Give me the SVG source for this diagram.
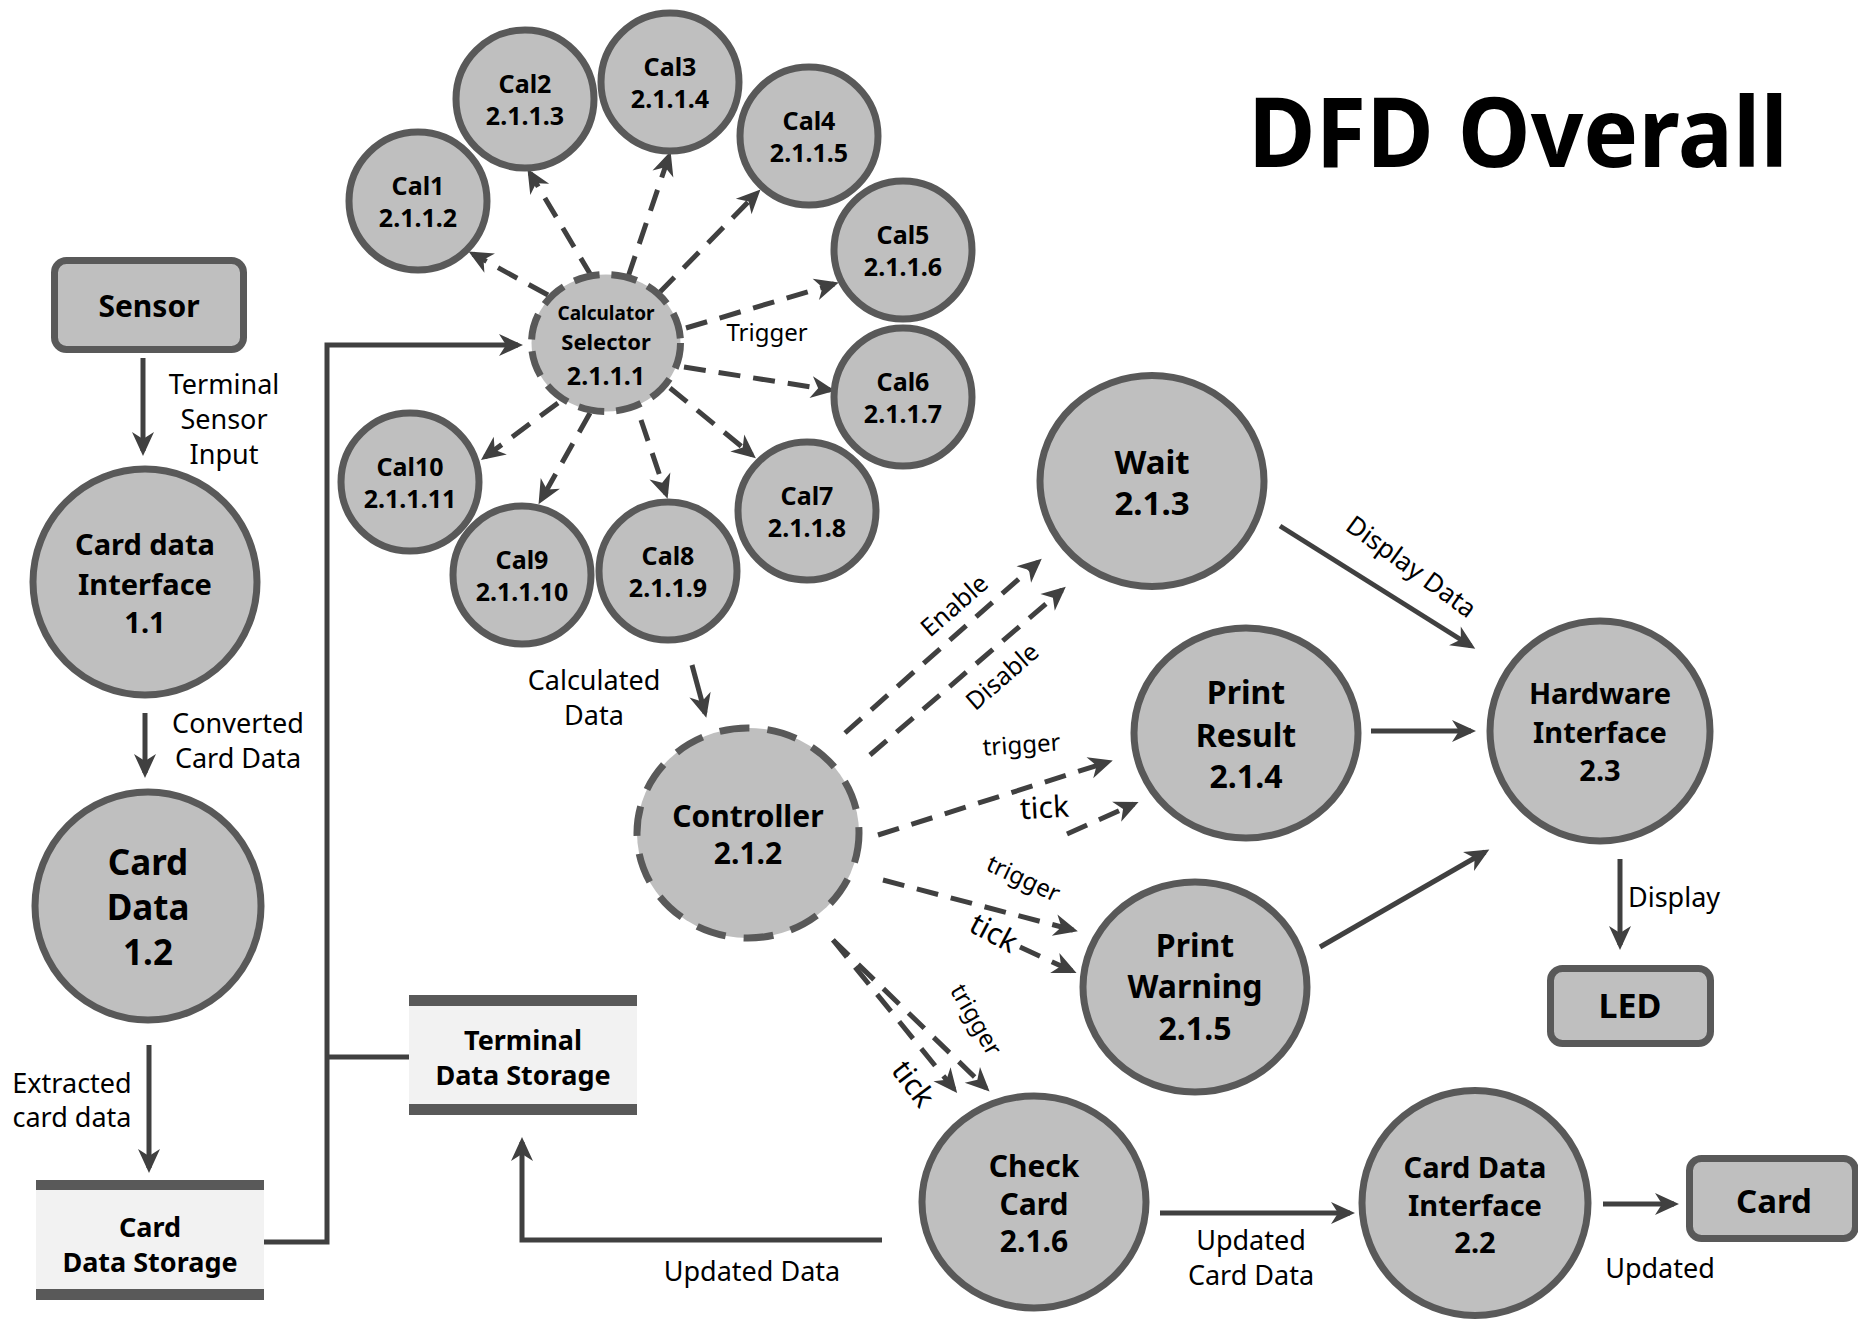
<svg xmlns="http://www.w3.org/2000/svg" width="1858" height="1321" viewBox="0 0 1858 1321">
<defs>
<marker id="ah" markerUnits="userSpaceOnUse" viewBox="-22 -13 30 26" refX="0" refY="0" markerWidth="30" markerHeight="26" orient="auto">
<path d="M5,0 L-19,-11 L-12,0 L-19,11 Z" fill="#404040"/>
</marker>
<style>
.nd{fill:#bfbfbf;stroke:#595959;stroke-width:7}
.dn{fill:#bfbfbf;stroke:#595959;stroke-width:7;stroke-dasharray:26 12}
.ct{fill:#bfbfbf;stroke:#595959;stroke-width:7;stroke-dasharray:30 18}
.bar{fill:#595959}
.sf{fill:#f2f2f2}
.c{fill:none;stroke:#404040;stroke-width:5}
.ca{fill:none;stroke:#404040;stroke-width:5;marker-end:url(#ah)}
.da{fill:none;stroke:#404040;stroke-width:5;stroke-dasharray:22 13;marker-end:url(#ah)}
text{font-family:"Noto Sans","Open Sans","DejaVu Sans",sans-serif;fill:#000}
.b{font-weight:bold;text-anchor:middle}
.l{font-size:27px;text-anchor:middle}
</style>
</defs>
<rect width="1858" height="1321" fill="#ffffff"/>

<text x="1248" y="167" font-size="96" font-weight="bold" textLength="540" lengthAdjust="spacingAndGlyphs">DFD Overall</text>

<g id="connectors">
<path class="ca" d="M143,358 L143,451"/>
<path class="ca" d="M145,713 L145,773"/>
<path class="ca" d="M149,1045 L149,1168"/>
<path class="ca" d="M264,1242 H327 V345 H518"/>
<path class="c" d="M327,1057 H409"/>
<path class="ca" d="M692,665 L705,713"/>
<path class="ca" d="M882,1240 H522 V1142"/>
<path class="ca" d="M1280,526 L1471,646"/>
<path class="ca" d="M1371,731 L1471,731"/>
<path class="ca" d="M1320,947 L1485,852"/>
<path class="ca" d="M1620,859 L1620,945"/>
<path class="ca" d="M1160,1213 L1350,1213"/>
<path class="ca" d="M1603,1204 L1674,1204"/>

<path class="da" d="M548,295 L473,254"/>
<path class="da" d="M592,277 L530,173"/>
<path class="da" d="M628,277 L669,156"/>
<path class="da" d="M659,293 L757,193"/>
<path class="da" d="M686,328 L834,284"/>
<path class="da" d="M684,367 L830,390"/>
<path class="da" d="M670,388 L752,455"/>
<path class="da" d="M641,420 L666,494"/>
<path class="da" d="M590,413 L541,500"/>
<path class="da" d="M558,403 L485,457"/>

<path class="da" d="M845,733 L1038,562"/>
<path class="da" d="M870,755 L1062,590"/>
<path class="da" d="M878,835 L1108,762"/>
<path class="da" d="M1067,834 L1134,804"/>
<path class="da" d="M883,880 L1073,930"/>
<path class="da" d="M1020,947 L1072,971"/>
<path class="da" d="M833,940 L954,1089"/>
<path class="da" d="M833,940 L986,1088"/>

<text class="l" x="224" y="394">Terminal</text>
<text class="l" x="224" y="429">Sensor</text>
<text class="l" x="224" y="464">Input</text>
<text class="l" x="238" y="733">Converted</text>
<text class="l" x="238" y="768">Card Data</text>
<text class="l" x="72" y="1093">Extracted</text>
<text class="l" x="72" y="1127">card data</text>
<text class="l" x="594" y="690">Calculated</text>
<text class="l" x="594" y="725">Data</text>
<text class="l" x="752" y="1281">Updated Data</text>
<text class="l" x="1251" y="1250">Updated</text>
<text class="l" x="1251" y="1285">Card Data</text>
<text class="l" x="1660" y="1278">Updated</text>
<text x="1628" y="907" font-size="27">Display</text>
<text class="l" transform="translate(1406,574) rotate(36)" style="font-size:26px">Display Data</text>
<text class="l" x="767" y="341" style="font-size:24px">Trigger</text>
<text class="l" style="font-size:25px" transform="translate(960,612) rotate(-41)">Enable</text>
<text class="l" style="font-size:25px" transform="translate(1008,683) rotate(-41)">Disable</text>
<text class="l" style="font-size:24px" transform="translate(1022,753) rotate(-4)">trigger</text>
<text class="l" style="font-size:30px" transform="translate(1045,818) rotate(-3)">tick</text>
<text class="l" style="font-size:24px" transform="translate(1020,886) rotate(25)">trigger</text>
<text class="l" style="font-size:30px" transform="translate(989,942) rotate(28)">tick</text>
<text class="l" style="font-size:24px" transform="translate(969,1024) rotate(60)">trigger</text>
<text class="l" style="font-size:30px" transform="translate(905,1090) rotate(53)">tick</text>
</g>

<g id="sensor">
<rect class="nd" x="54.5" y="260.5" width="189" height="89" rx="12"/>
<text class="b" x="149" y="317" font-size="30">Sensor</text>
</g>

<g id="card-data-interface-1-1">
<ellipse class="nd" cx="145" cy="582" rx="112" ry="113"/>
<text class="b" x="145" y="555" font-size="29">Card data</text>
<text class="b" x="145" y="595" font-size="29">Interface</text>
<text class="b" x="145" y="633" font-size="29">1.1</text>
</g>

<g id="card-data-1-2">
<ellipse class="nd" cx="148" cy="906" rx="113" ry="114"/>
<text class="b" x="148" y="875" font-size="35">Card</text>
<text class="b" x="148" y="920" font-size="35">Data</text>
<text class="b" x="148" y="965" font-size="35">1.2</text>
</g>

<g id="card-data-storage">
<rect class="sf" x="36" y="1190" width="228" height="99"/>
<rect class="bar" x="36" y="1180" width="228" height="10"/>
<rect class="bar" x="36" y="1289" width="228" height="11"/>
<text class="b" x="150" y="1237" font-size="27">Card</text>
<text class="b" x="150" y="1272" font-size="27">Data Storage</text>
</g>

<g id="terminal-data-storage">
<rect class="sf" x="409" y="1006" width="228" height="98"/>
<rect class="bar" x="409" y="995" width="228" height="11"/>
<rect class="bar" x="409" y="1104" width="228" height="11"/>
<text class="b" x="523" y="1050" font-size="27">Terminal</text>
<text class="b" x="523" y="1085" font-size="27">Data Storage</text>
</g>

<g id="calculator-selector">
<ellipse class="dn" cx="606" cy="343" rx="74.5" ry="68.5"/>
<text class="b" x="606" y="320" font-size="19">Calculator</text>
<text class="b" x="606" y="350" font-size="22">Selector</text>
<text class="b" x="606" y="385" font-size="25">2.1.1.1</text>
</g>

<g id="cal1"><circle class="nd" cx="418" cy="201" r="69"/><text class="b" x="418" y="195" font-size="25">Cal1</text><text class="b" x="418" y="227" font-size="25">2.1.1.2</text></g>
<g id="cal2"><circle class="nd" cx="525" cy="99" r="69"/><text class="b" x="525" y="93" font-size="25">Cal2</text><text class="b" x="525" y="125" font-size="25">2.1.1.3</text></g>
<g id="cal3"><circle class="nd" cx="670" cy="82" r="69"/><text class="b" x="670" y="76" font-size="25">Cal3</text><text class="b" x="670" y="108" font-size="25">2.1.1.4</text></g>
<g id="cal4"><circle class="nd" cx="809" cy="136" r="69"/><text class="b" x="809" y="130" font-size="25">Cal4</text><text class="b" x="809" y="162" font-size="25">2.1.1.5</text></g>
<g id="cal5"><circle class="nd" cx="903" cy="250" r="69"/><text class="b" x="903" y="244" font-size="25">Cal5</text><text class="b" x="903" y="276" font-size="25">2.1.1.6</text></g>
<g id="cal6"><circle class="nd" cx="903" cy="397" r="69"/><text class="b" x="903" y="391" font-size="25">Cal6</text><text class="b" x="903" y="423" font-size="25">2.1.1.7</text></g>
<g id="cal7"><circle class="nd" cx="807" cy="511" r="69"/><text class="b" x="807" y="505" font-size="25">Cal7</text><text class="b" x="807" y="537" font-size="25">2.1.1.8</text></g>
<g id="cal8"><circle class="nd" cx="668" cy="571" r="69"/><text class="b" x="668" y="565" font-size="25">Cal8</text><text class="b" x="668" y="597" font-size="25">2.1.1.9</text></g>
<g id="cal9"><circle class="nd" cx="522" cy="575" r="69"/><text class="b" x="522" y="569" font-size="25">Cal9</text><text class="b" x="522" y="601" font-size="25">2.1.1.10</text></g>
<g id="cal10"><circle class="nd" cx="410" cy="482" r="69"/><text class="b" x="410" y="476" font-size="25">Cal10</text><text class="b" x="410" y="508" font-size="25">2.1.1.11</text></g>

<g id="controller">
<ellipse class="ct" cx="748" cy="833" rx="111" ry="105"/>
<text class="b" x="748" y="827" font-size="30">Controller</text>
<text class="b" x="748" y="864" font-size="30">2.1.2</text>
</g>

<g id="wait">
<ellipse class="nd" cx="1152" cy="481" rx="112" ry="105.5"/>
<text class="b" x="1152" y="474" font-size="33">Wait</text>
<text class="b" x="1152" y="515" font-size="33">2.1.3</text>
</g>

<g id="print-result">
<ellipse class="nd" cx="1246" cy="733" rx="112" ry="105"/>
<text class="b" x="1246" y="704" font-size="32">Print</text>
<text class="b" x="1246" y="747" font-size="32">Result</text>
<text class="b" x="1246" y="788" font-size="32">2.1.4</text>
</g>

<g id="print-warning">
<ellipse class="nd" cx="1195" cy="987" rx="112" ry="105"/>
<text class="b" x="1195" y="957" font-size="32">Print</text>
<text class="b" x="1195" y="998" font-size="32">Warning</text>
<text class="b" x="1195" y="1040" font-size="32">2.1.5</text>
</g>

<g id="check-card">
<ellipse class="nd" cx="1034" cy="1202" rx="112" ry="106"/>
<text class="b" x="1034" y="1177" font-size="30">Check</text>
<text class="b" x="1034" y="1215" font-size="30">Card</text>
<text class="b" x="1034" y="1252" font-size="30">2.1.6</text>
</g>

<g id="card-data-interface-2-2">
<ellipse class="nd" cx="1475" cy="1203" rx="113" ry="112.5"/>
<text class="b" x="1475" y="1178" font-size="29">Card Data</text>
<text class="b" x="1475" y="1216" font-size="29">Interface</text>
<text class="b" x="1475" y="1253" font-size="29">2.2</text>
</g>

<g id="hardware-interface">
<ellipse class="nd" cx="1600" cy="731" rx="110" ry="110"/>
<text class="b" x="1600" y="704" font-size="29">Hardware</text>
<text class="b" x="1600" y="743" font-size="29">Interface</text>
<text class="b" x="1600" y="781" font-size="29">2.3</text>
</g>

<g id="led">
<rect class="nd" x="1550.5" y="968.5" width="160" height="75" rx="12"/>
<text class="b" x="1630" y="1018" font-size="34">LED</text>
</g>

<g id="card">
<rect class="nd" x="1689.5" y="1158.5" width="166" height="80" rx="12"/>
<text class="b" x="1774" y="1213" font-size="33">Card</text>
</g>
</svg>
